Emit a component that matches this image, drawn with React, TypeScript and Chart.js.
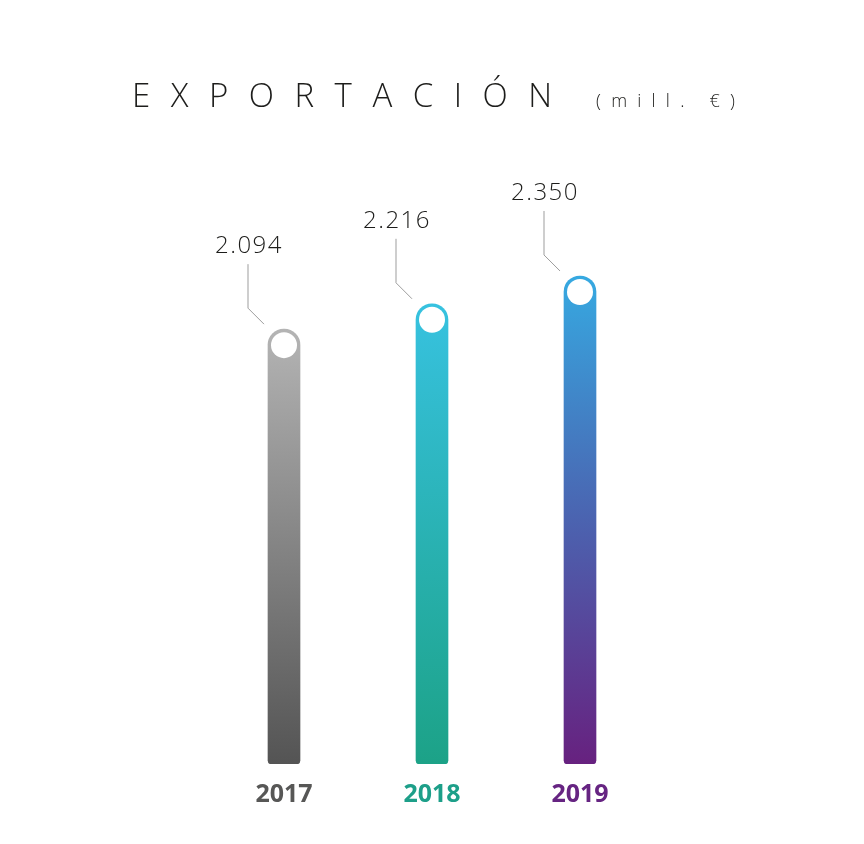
import React, { useEffect, useRef } from "react";
import { Chart, registerables } from "chart.js";

Chart.register(...registerables);

const years = ["2017", "2018", "2019"];
const exportValues = [2094, 2216, 2350];
const valueLabels = ["2.094", "2.216", "2.350"];
const gradientStops = [
  ["#b4b4b4", "#545454"],
  ["#37c2e0", "#1ca287"],
  ["#36a9e1", "#4b63b0", "#67217f"],
];
const yearColors = ["#575756", "#1d9f89", "#662482"];
const titleText = "EXPORTACIÓN";
const unitText = "(mill. €)";

function drawSpaced(ctx: CanvasRenderingContext2D, text: string, x: number, y: number, targetWidth: number) {
  (ctx as any).letterSpacing = "0px";
  const chars = Array.from(text);
  const widths = chars.map((c) => ctx.measureText(c).width);
  const total = widths.reduce((a, b) => a + b, 0);
  const gap = (targetWidth - total) / Math.max(1, chars.length - 1);
  let cx = x;
  ctx.textAlign = "left";
  chars.forEach((c, i) => {
    ctx.fillText(c, cx, y);
    cx += widths[i] + gap;
  });
}

const overlayPlugin = {
  id: "overlay",
  afterDraw(chart: any) {
    const ctx: CanvasRenderingContext2D = chart.ctx;
    ctx.save();
    ctx.fillStyle = "#1d1d1b";
    ctx.textBaseline = "alphabetic";
    ctx.font = '300 33px "Open Sans"';
    drawSpaced(ctx, titleText, 124, 99, 420);
    ctx.font = '300 18px "Open Sans"';
    drawSpaced(ctx, unitText, 588, 99, 139);
    ctx.restore();
  },
  afterDatasetsDraw(chart: any) {
    const ctx: CanvasRenderingContext2D = chart.ctx;
    const meta = chart.getDatasetMeta(0);
    ctx.save();
    meta.data.forEach((bar: any, i: number) => {
      const x = bar.x;
      const cy = bar.y + 16;
      ctx.beginPath();
      ctx.arc(x, cy, 13, 0, Math.PI * 2);
      ctx.fillStyle = "#ffffff";
      ctx.fill();
      ctx.beginPath();
      ctx.strokeStyle = "#9d9d9d";
      ctx.lineWidth = 1;
      ctx.moveTo(x - 36, cy - 81);
      ctx.lineTo(x - 36, cy - 37);
      ctx.lineTo(x - 20, cy - 21);
      ctx.stroke();
      ctx.fillStyle = "#1d1d1b";
      ctx.font = '300 24px "Open Sans"';
      (ctx as any).letterSpacing = "1.5px";
      ctx.textAlign = "center";
      ctx.textBaseline = "alphabetic";
      ctx.fillText(valueLabels[i], x - 35, cy - 92);
    });
    ctx.restore();
  },
};

export default function App() {
  const ref = useRef<HTMLCanvasElement | null>(null);
  useEffect(() => {
    if (!ref.current) return;
    const chart = new Chart(ref.current, {
      type: "bar",
      data: {
        labels: years,
        datasets: [
          {
            data: exportValues,
            barThickness: 32,
            borderRadius: { topLeft: 16, topRight: 16, bottomLeft: 4, bottomRight: 4 },
            borderSkipped: false,
            backgroundColor: (c: any) => {
              const chart = c.chart;
              const stops = gradientStops[c.dataIndex] || gradientStops[0];
              if (!chart.chartArea || !chart.scales.y) return stops[0];
              const yTop = chart.scales.y.getPixelForValue(exportValues[c.dataIndex]);
              const yBot = chart.scales.y.getPixelForValue(0);
              const g = chart.ctx.createLinearGradient(0, yTop, 0, yBot);
              stops.forEach((s: string, k: number) => g.addColorStop(k / (stops.length - 1), s));
              return g;
            },
          },
        ],
      },
      options: {
        animation: false,
        responsive: true,
        maintainAspectRatio: false,
        layout: { padding: { left: 202, right: 202, top: 133, bottom: 18 } },
        plugins: { legend: { display: false }, tooltip: { enabled: false }, title: { display: false } },
        scales: {
          y: { display: false, min: 0, max: 3000 },
          x: {
            grid: { display: false },
            border: { display: false },
            ticks: {
              padding: 8,
              color: (c: any) => yearColors[c.index],
              font: { family: '"Open Sans"', weight: "bold", size: 25 },
            },
          },
        },
      },
      plugins: [overlayPlugin],
    });
    return () => chart.destroy();
  }, []);
  return (
    <div style={{ width: 848, height: 828, position: "relative" }}>
      <canvas ref={ref} />
    </div>
  );
}
